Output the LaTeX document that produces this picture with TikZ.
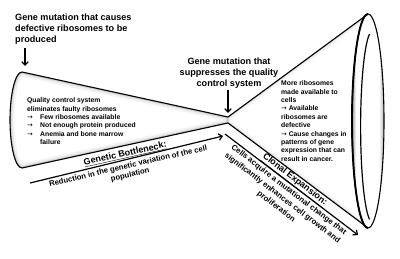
\documentclass[tikz,border=0pt]{standalone}
\usepackage{fontspec}
\setmainfont{Liberation Sans}
\newfontfamily\arrowfont{DejaVu Sans}
\newcommand\arrowmark{{\arrowfont\mdseries →}}
\usetikzlibrary{arrows.meta}
\pgfdeclarehorizontalshading{rimshade}{100bp}{color(0bp)=(gray!80); color(25bp)=(gray!80); color(31bp)=(white); color(67bp)=(white); color(75bp)=(gray!60); color(100bp)=(gray!60)}
\tikzset{
	edge line/.style={line width=1.1pt, line join=round},
	flow arrow/.style={line width=1.2pt, -{Straight Barb[length=3.5pt,width=6.5pt]}},
	head text/.style={font=\bfseries\fontsize{9.1}{11}\selectfont, inner sep=0pt},
	box text/.style={font=\bfseries\fontsize{6.8}{8.35}\selectfont, inner sep=0pt, align=left},
	step title/.style={font=\bfseries\fontsize{9}{10}\selectfont, inner sep=0pt},
	step text/.style={font=\bfseries\fontsize{7.7}{8.8}\selectfont, inner sep=0pt, align=center},
}

\begin{document}
\begin{tikzpicture}[x=1pt,y=-1pt]
	\useasboundingbox (0,0) rectangle (400,259);

	\coordinate (lefttop) at (22,72);
	\coordinate (leftbot) at (22,168);
	\coordinate (necktop) at (228,117);
	\coordinate (neckbot) at (228,123);
	\coordinate (righttop) at (368,14);
	\coordinate (rightmid) at (368,121);
	\coordinate (rightbot) at (368,228);
	\coordinate (bottlestart) at (30,183);
	\coordinate (bottleend) at (223,136);
	\coordinate (clonalstart) at (225,134);
	\coordinate (clonalend) at (358,235);
	\coordinate (causefrom) at (25,48);
	\coordinate (causeto) at (25,66);
	\coordinate (suppressfrom) at (228,90);
	\coordinate (suppressto) at (228,113);

	\begin{scope}
		\clip (leftbot) arc (90:270:12 and 48) -- (necktop) -- (neckbot) -- cycle;
		\foreach \w/\c in {9/8,6/16,3.5/30,2/45}
			\draw[gray!\c, line width=\w pt, line join=round] (leftbot) arc (90:270:12 and 48) -- (necktop) -- (neckbot) -- cycle;
	\end{scope}

	\begin{scope}
		\clip (necktop) -- (righttop) arc (270:90:16 and 107) -- (neckbot) -- cycle;
		\foreach \w/\c in {7/6,4/14,2/28}
			\draw[gray!\c, line width=\w pt, line join=round] (righttop) -- (necktop) -- (neckbot) -- (rightbot);
	\end{scope}

	\fill[shading=rimshade] (rightmid) ellipse (16 and 107);
	\draw[edge line] (rightmid) ellipse (16 and 107);
	\draw[line width=1.9pt] (righttop) arc (270:90:16 and 107);
	\draw[line width=1.2pt] (369.5,34) arc (255:105:12 and 96);

	\draw[edge line] (leftbot) arc (90:270:12 and 48) -- (necktop) -- (righttop);
	\draw[edge line] (leftbot) -- (neckbot) -- (rightbot);

	\draw[flow arrow] (bottlestart) -- (bottleend);
	\node[step title, rotate=12.5] (bottletitle) at (125.2,154.2) {\underline{Genetic Bottleneck:}};
	\node[step text, rotate=13] (bottletext) at (129.2,170.7) {Reduction in the genetic variation of the cell\\population};

	\draw[flow arrow] (clonalstart) -- (clonalend);
	\node[step title, rotate=-37.5] (clonaltitle) at (294.3,180.3) {\underline{Clonal Expansion:}};
	\node[step text, rotate=-37.5, align=center, font=\bfseries\fontsize{7.8}{10.4}\selectfont] (clonaltext) at (282.4,198.3) {Cells acquire a mutational change that\\significantly enhances cell growth and\\proliferation};

	\node[head text, anchor=north west, align=left] (causetext) at (15,13.4) {Gene mutation that causes\\defective ribosomes to be\\produced};
	\draw[flow arrow] (causefrom) -- (causeto);

	\node[head text, anchor=north, align=center] (suppresstext) at (229,57.4) {Gene mutation that\\suppresses the quality\\control system};
	\draw[flow arrow] (suppressfrom) -- (suppressto);

	\node[box text, anchor=north west] (qualitytext) at (27,97.8) {Quality control system\\eliminates faulty ribosomes\\\makebox[13pt][l]{\arrowmark}Few ribosomes available\\\makebox[13pt][l]{\arrowmark}Not enough protein produced\\\makebox[13pt][l]{\arrowmark}Anemia and bone marrow\\\hspace*{13pt}failure};

	\node[box text, anchor=north west] (moretext) at (281,80.8) {More ribosomes\\made available to\\cells\\\arrowmark{} Available\\ribosomes are\\defective\\\arrowmark{} Cause changes in\\patterns of gene\\expression that can\\result in cancer.};
\end{tikzpicture}
\end{document}
